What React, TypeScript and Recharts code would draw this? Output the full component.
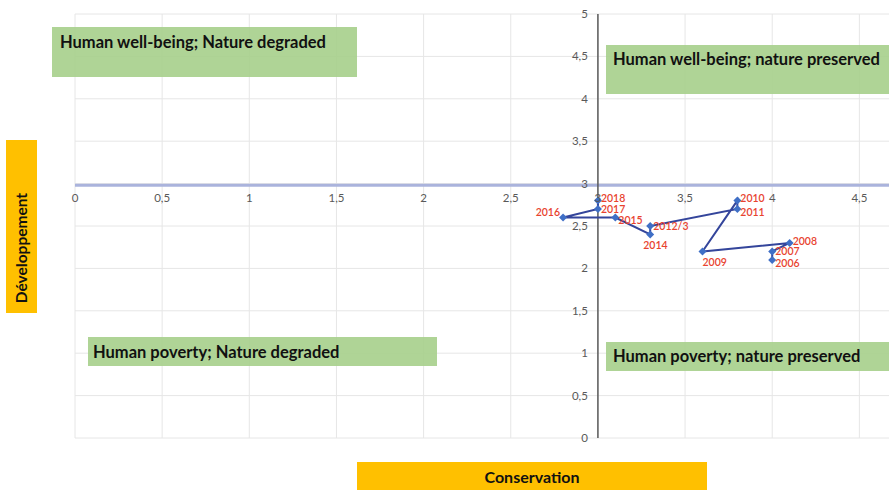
import { ScatterChart, Scatter, XAxis, YAxis, CartesianGrid, ReferenceLine, ReferenceDot } from "recharts";

const YEARS = ["2006", "2007", "2008", "2009", "2010", "2011", "2012/3", "2014", "2015", "2016", "2017", "2018"];
const CONSERVATION = [4.0, 4.0, 4.1, 3.6, 3.8, 3.8, 3.3, 3.3, 3.1, 2.8, 3.0, 3.0];
const DEVELOPPEMENT = [2.1, 2.2, 2.3, 2.2, 2.8, 2.7, 2.5, 2.4, 2.6, 2.6, 2.7, 2.8];
const LABEL_SIDE = ["rightDown", "right", "rightUp", "bottomRight", "rightUp", "rightDown", "right", "bottom", "rightDown", "left", "right", "rightUp"];

const X_TICKS = [0, 0.5, 1, 1.5, 2, 2.5, 3, 3.5, 4, 4.5];
const Y_TICKS = [0, 0.5, 1, 1.5, 2, 2.5, 3, 3.5, 4, 4.5, 5];

const QUADRANTS = [
  "Human well-being; Nature degraded",
  "Human well-being; nature preserved",
  "Human poverty; Nature degraded",
  "Human poverty; nature preserved",
];

const FONT = "Lato, 'Open Sans', sans-serif";
const fmt = (v: number) => String(v).replace(".", ",");

const points = YEARS.map((year, i) => ({
  year,
  x: CONSERVATION[i],
  y: DEVELOPPEMENT[i],
  side: LABEL_SIDE[i],
}));

function PointShape(props: any) {
  const { cx, cy, payload } = props;
  const d = 4;
  let tx = cx + 3;
  let ty = cy;
  let anchor: "start" | "end" | "middle" = "start";
  if (payload.side === "left") {
    tx = cx - 3;
    ty = cy - 5;
    anchor = "end";
  } else if (payload.side === "bottom") {
    tx = cx - 7;
    ty = cy + 11;
  } else if (payload.side === "bottomRight") {
    tx = cx;
    ty = cy + 11;
  } else if (payload.side === "rightUp") {
    ty = cy - 2;
  } else if (payload.side === "rightDown") {
    ty = cy + 3;
  }
  return (
    <g>
      <polygon points={`${cx},${cy - d} ${cx + d},${cy} ${cx},${cy + d} ${cx - d},${cy}`} fill="#3f6fc6" />
      <text x={tx} y={ty} dy="0.35em" textAnchor={anchor} fill="#e8432f" fontSize={10.5} fontWeight={600} fontFamily={FONT}>
        {payload.year}
      </text>
    </g>
  );
}

const greenBox = {
  position: "absolute" as const,
  background: "rgba(166, 207, 139, 0.9)",
  fontFamily: FONT,
  fontWeight: 700,
  fontSize: "16.5px",
  lineHeight: "18px",
  color: "#111",
  boxSizing: "border-box" as const,
  whiteSpace: "nowrap" as const,
  overflow: "hidden",
};

export default function App() {
  return (
    <div style={{ position: "absolute", left: 0, top: 0, width: 889, height: 490, background: "#fff", overflow: "hidden" }}>
      <ScatterChart width={889} height={490} margin={{ top: 14, right: 0, bottom: 52, left: 75 }} style={{ fontFamily: FONT }}>
        <CartesianGrid stroke="#e6e6e6" horizontalValues={Y_TICKS} verticalValues={X_TICKS} />
        <XAxis type="number" dataKey="x" domain={[0, 4.67]} ticks={X_TICKS} hide allowDataOverflow />
        <YAxis type="number" dataKey="y" domain={[0, 5]} ticks={Y_TICKS} hide />
        <ReferenceLine y={2.98} stroke="#aab3dc" strokeWidth={3} />
        <ReferenceLine x={3} stroke="#5a5a5a" strokeWidth={1.5} />
        <Scatter
          data={points}
          line={{ stroke: "#34459b", strokeWidth: 2 }}
          shape={PointShape}
          isAnimationActive={false}
        />
        {X_TICKS.map((t) => (
          <ReferenceDot
            key={`x${t}`}
            x={t}
            y={3}
            r={0}
            stroke="none"
            label={{ value: fmt(t), position: "bottom", offset: 10, fill: "#595959", fontSize: 11.5, fontFamily: FONT }}
          />
        ))}
        {Y_TICKS.map((t) => (
          <ReferenceDot
            key={`y${t}`}
            x={3}
            y={t}
            r={0}
            stroke="none"
            label={{ value: fmt(t), position: "left", offset: 10, fill: "#595959", fontSize: 11.5, fontFamily: FONT }}
          />
        ))}
      </ScatterChart>

      <div style={{ ...greenBox, left: 52, top: 27, width: 305, height: 50, padding: "6px 0 0 8px" }}>{QUADRANTS[0]}</div>
      <div style={{ ...greenBox, left: 606, top: 45, width: 290, height: 49, padding: "5px 0 0 7px" }}>{QUADRANTS[1]}</div>
      <div style={{ ...greenBox, left: 88, top: 337, width: 349, height: 29, padding: "6px 0 0 5px" }}>{QUADRANTS[2]}</div>
      <div style={{ ...greenBox, left: 606, top: 342, width: 290, height: 29, padding: "5px 0 0 7px" }}>{QUADRANTS[3]}</div>

      <div style={{ position: "absolute", left: 6, top: 140, width: 31, height: 173, background: "#ffc000" }}>
        <span
          style={{
            position: "absolute",
            left: 15,
            top: 108,
            transform: "translate(-50%, -50%) rotate(-90deg)",
            fontFamily: FONT,
            fontWeight: 700,
            fontSize: "15.5px",
            whiteSpace: "nowrap",
            color: "#111",
          }}
        >
          Développement
        </span>
      </div>
      <div
        style={{
          position: "absolute",
          left: 357,
          top: 462,
          width: 350,
          height: 30,
          background: "#ffc000",
          fontFamily: FONT,
          fontWeight: 700,
          fontSize: "16px",
          color: "#111",
          textAlign: "center",
          lineHeight: "30px",
        }}
      >
        Conservation
      </div>
    </div>
  );
}
